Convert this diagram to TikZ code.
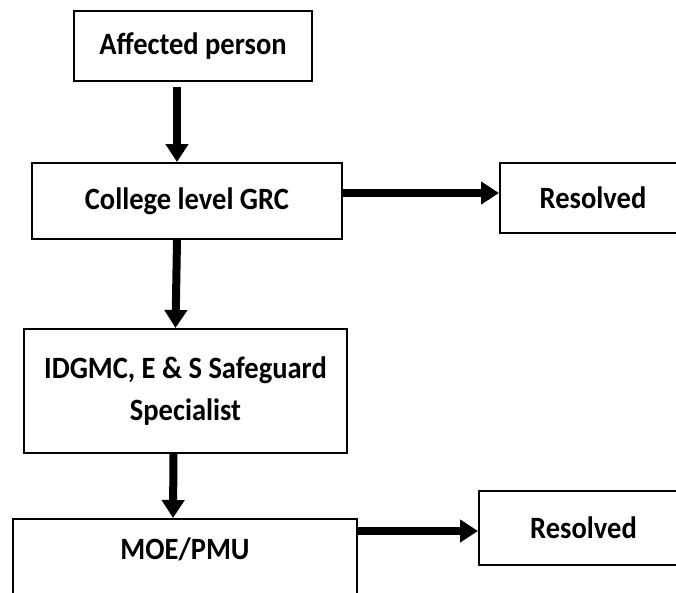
\documentclass[tikz,border=0pt]{standalone}
\usepackage{fontspec}
\setmainfont[FakeStretch=0.92]{Carlito}
\usetikzlibrary{arrows.meta}
\begin{document}
\begin{tikzpicture}[x=1pt, y=1pt, -{Triangle[length=18pt,width=22pt]}, line width=8pt,
    main node/.style={rectangle, draw, line width=2pt, inner sep=0pt}]
        \tikzstyle{every node}=[font=\fontsize{31}{42}\selectfont\bfseries]
        \useasboundingbox (0,0) rectangle (676,-592);

          \node[main node, minimum width=238pt, minimum height=70pt] (1) at (193,-46) {Affected person};
          \node[main node, minimum width=310pt, minimum height=76pt] (2) at (187,-201) {College level GRC};
          \node[main node, minimum width=186pt, minimum height=70pt] (3) at (593,-198) {Resolved};
          \node[main node, minimum width=323pt, minimum height=124pt, align=center] (4) at (185.5,-391) {IDGMC, E \& S Safeguard\\Specialist};
          \node[main node, minimum width=344pt, anchor=north, text height=21pt, text depth=60pt, inner ysep=19pt] (5) at (185,-518) {MOE/PMU};
          \node[main node, minimum width=209pt, minimum height=74pt] (6) at (583.5,-528) {Resolved};

          \path
            ([xshift=-16pt]1.south) edge[shorten <=5pt] ([xshift=-10pt]2.north)
            ([xshift=-10pt]2.south) edge ([xshift=-10pt]4.north)
            ([xshift=-12pt]4.south) edge ([xshift=-12pt]5.north)
            ([yshift=8pt]2.east) edge ([yshift=8pt]2.east -| 3.west)
            ([yshift=-13pt]5.north east) edge ([yshift=-13pt]5.north east -| 6.west);

        \end{tikzpicture}
\end{document}
